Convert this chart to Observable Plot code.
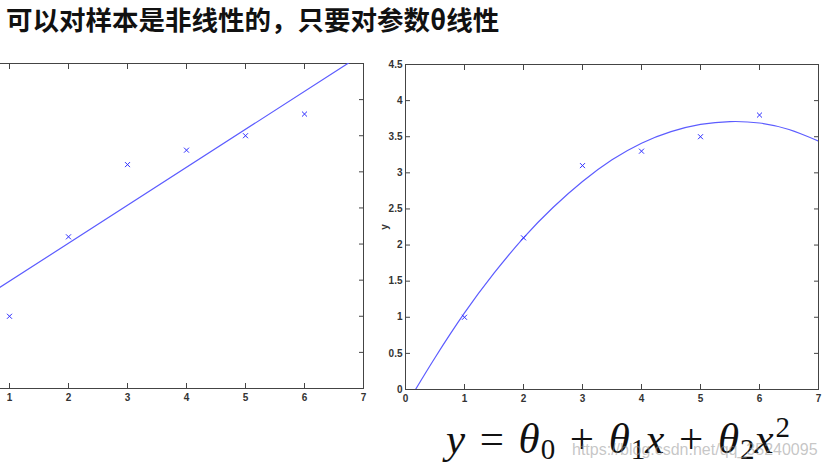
<!DOCTYPE html>
<html>
<head>
<meta charset="utf-8">
<script src="https://cdn.jsdelivr.net/npm/d3@7"></script>
<script src="https://cdn.jsdelivr.net/npm/@observablehq/plot@0.6"></script>
<style>
  html, body { margin: 0; padding: 0; background: #fff; }
  #page { position: relative; width: 825px; height: 468px; overflow: hidden; background: #fff; }
  #title { position: absolute; left: 6px; top: 6px; font-family: "Noto Sans CJK SC", sans-serif; font-weight: 700; font-size: 26.5px; line-height: 1; color: #111; white-space: nowrap; }
  #left { position: absolute; left: -85px; top: 53px; }
  #right { position: absolute; left: 370px; top: 54px; }
  #formula { position: absolute; left: 446px; top: 413px; font-family: "Liberation Serif", serif; font-size: 43px; line-height: 1; color: #111; white-space: nowrap; }
  #formula i { font-style: italic; }
  #formula .op { display: inline-block; margin: 0 0.34em; }
  #formula sub { font-size: 29px; vertical-align: -0.22em; margin-left: 1px; }
  #formula sup { font-size: 29px; vertical-align: 0.55em; margin-left: 2px; }
  #wm { position: absolute; left: 572px; top: 441px; font-family: "Liberation Sans", sans-serif; font-size: 16px; color: rgba(150,150,150,0.55); white-space: nowrap; }
</style>
</head>
<body>
<div id="page">
  <div id="title">可以对样本是非线性的，只要对参数θ线性</div>
  <div id="left"></div>
  <div id="right"></div>
  <div id="formula"><i>y</i><span class="op">=</span><i>θ</i><sub>0</sub><span class="op">+</span><i>θ</i><sub>1</sub><i>x</i><span class="op">+</span><i>θ</i><sub>2</sub><i>x</i><sup>2</sup></div>
  <div id="wm">https://blog.csdn.net/qq_35240095</div>
</div>
<script>
// sample points
const sampleX = [1, 2, 3, 4, 5, 6];
const sampleY = [1.0, 2.1, 3.1, 3.3, 3.5, 3.8];
// straight fitted line (left panel), read at its ends
const linFitX = [0, 7];
const linFitY = [0.96, 4.64];
// quadratic fitted curve (right panel)
const quadFitX = [0.17, 0.5, 1, 1.5, 2, 2.5, 3, 3.5, 4, 4.5, 5, 5.5, 6, 6.5, 7];
const quadFitY = [0.0, 0.44, 1.06, 1.61, 2.10, 2.52, 2.88, 3.18, 3.41, 3.57, 3.67, 3.71, 3.69, 3.60, 3.44];
// ticks
const xTicks = [0, 1, 2, 3, 4, 5, 6, 7];
const xTickLabels = ["0", "1", "2", "3", "4", "5", "6", "7"];
const leftXLabelTicks = [1, 2, 3, 4, 5, 6, 7]; // left panel: the 0 label lies outside the visible crop
const yTicks = [0, 0.5, 1, 1.5, 2, 2.5, 3, 3.5, 4, 4.5];
const yTickLabels = ["0", "0.5", "1", "1.5", "2", "2.5", "3", "3.5", "4", "4.5"];

const points = sampleX.map((x, i) => ({x, y: sampleY[i]}));
const linFit = linFitX.map((x, i) => ({x, y: linFitY[i]}));
const quadFit = quadFitX.map((x, i) => ({x, y: quadFitY[i]}));

const lineColor = "#5c5cff";
const dotColor = "#2f2fff";
const axisColor = "#444";
const labelColor = "#333";

function panel(fitData, curve, isRight) {
  return Plot.plot({
    width: 455,
    height: 360,
    marginLeft: 35,
    marginRight: 7,
    marginTop: 10,
    marginBottom: 25,
    style: {fontFamily: "Liberation Sans, Arial, sans-serif", fontSize: "10px", color: labelColor, background: "transparent"},
    x: {domain: [0, 7]},
    y: {domain: [0, 4.5]},
    marks: [
      Plot.frame({stroke: axisColor, strokeWidth: 1}),
      Plot.axisX({anchor: "bottom", ticks: xTicks, tickSize: -5, stroke: axisColor, fill: "none", label: null}),
      Plot.axisX({anchor: "bottom", ticks: isRight ? xTicks : leftXLabelTicks, tickSize: 0, tickPadding: 5, fill: labelColor,
        fontWeight: "bold", tickFormat: (d) => xTickLabels[xTicks.indexOf(d)], label: null}),
      Plot.axisX({anchor: "top", ticks: xTicks, tickSize: -5, stroke: axisColor, fill: "none", label: null}),
      isRight
        ? Plot.axisY({anchor: "left", ticks: yTicks, tickSize: -5, tickPadding: 8, stroke: axisColor, fill: labelColor, fontWeight: "bold",
            tickFormat: (d) => yTickLabels[yTicks.indexOf(d)], label: "y", labelAnchor: "center", labelArrow: "none", labelOffset: 25})
        : Plot.axisY({anchor: "left", ticks: yTicks, tickSize: -5, stroke: axisColor, fill: "none", label: null}),
      Plot.axisY({anchor: "right", ticks: yTicks, tickSize: -5, stroke: axisColor, fill: "none", label: null}),
      Plot.line(fitData, {x: "x", y: "y", stroke: lineColor, strokeWidth: 1.2, curve, clip: true}),
      Plot.dot(points, {x: "x", y: "y", symbol: "times", r: 2.4, stroke: dotColor, strokeWidth: 1})
    ]
  });
}

document.getElementById("left").appendChild(panel(linFit, "linear", false));
document.getElementById("right").appendChild(panel(quadFit, "natural", true));
</script>
</body>
</html>
